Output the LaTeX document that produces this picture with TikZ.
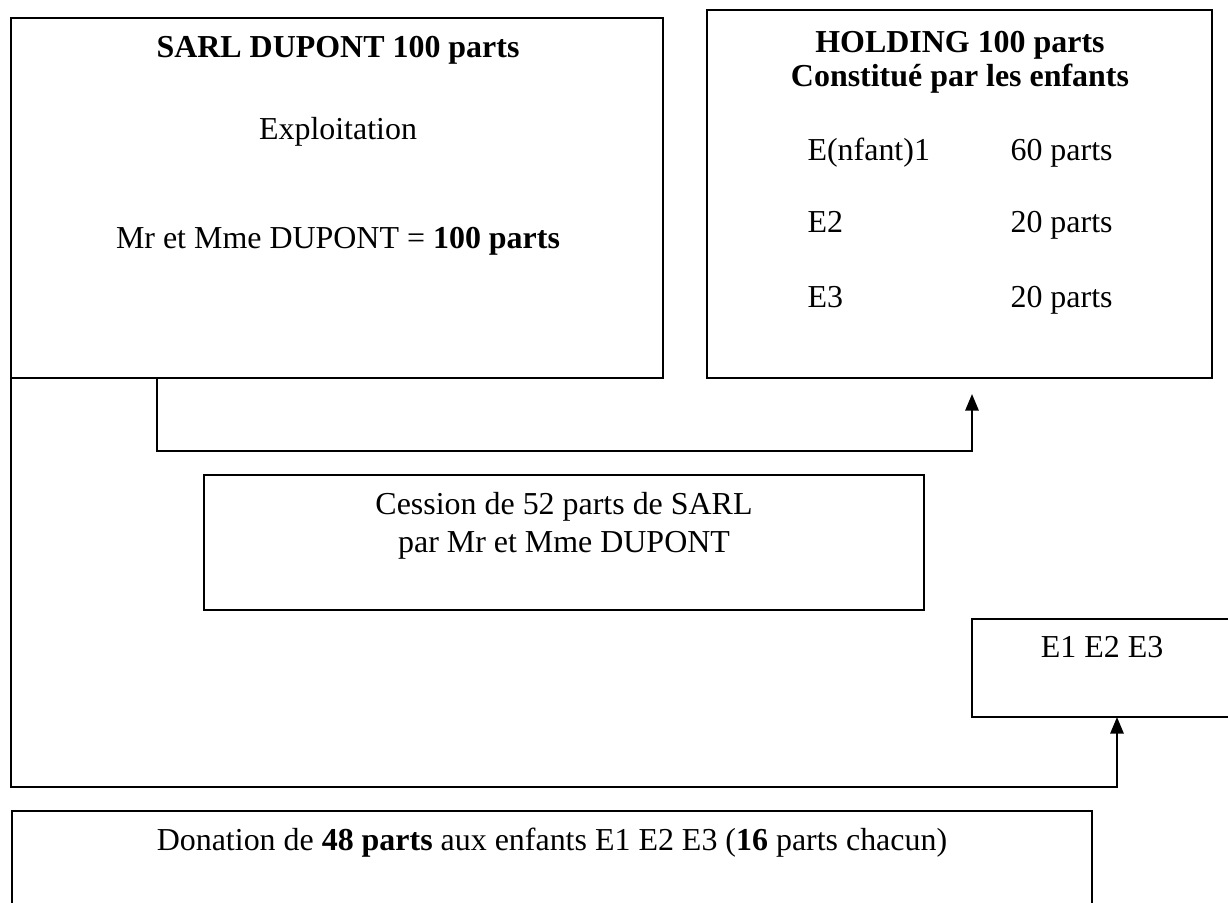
\documentclass[tikz,border=0pt]{standalone}
\usepackage{fontspec}
\setmainfont{Liberation Serif}
\usetikzlibrary{arrows.meta}
\begin{document}
\begin{tikzpicture}[x=0.36pt,y=-0.36pt,
  box/.style={draw,line width=0.75pt,inner sep=0pt,outer sep=0pt,rectangle},
  txt/.style={anchor=base,inner sep=0pt,font=\fontsize{11.5}{14}\selectfont},
  txtl/.style={anchor=base west,inner sep=0pt,font=\fontsize{11.5}{14}\selectfont},
  arr/.style={line width=0.75pt,-{Triangle[length=6pt,width=4.8pt]}},
  line/.style={line width=0.75pt}]
\useasboundingbox (0,0) rectangle (1228,902);
% boxes
\node[box,minimum width=234.72pt,minimum height=129.6pt] (sarl) at (337,198) {};
\node[box,minimum width=181.8pt,minimum height=132.48pt] (holding) at (959.5,194) {};
\node[box,minimum width=259.2pt,minimum height=48.6pt] (cession) at (564,542.5) {};
\node[box,minimum width=93.6pt,minimum height=35.28pt] (e123) at (1102,668) {};
\node[box,minimum width=388.8pt,minimum height=37.44pt] (donation) at (552,863) {};
% texts
\node[txt] (t1) at (338,57) {\textbf{SARL DUPONT 100 parts}};
\node[txt] (t2) at (338,139) {Exploitation};
\node[txt] (t3) at (338,248) {Mr et Mme DUPONT = \textbf{100 parts}};
\node[txt] (h1) at (960,52) {\textbf{HOLDING 100 parts}};
\node[txt] (h2) at (960,86) {\textbf{Constitué par les enfants}};
\node[txtl] (h3a) at (807,160) {E(nfant)1};
\node[txtl] (h3b) at (1010,160) {60 parts};
\node[txtl] (h4a) at (807,232) {E2};
\node[txtl] (h4b) at (1010,232) {20 parts};
\node[txtl] (h5a) at (807,307) {E3};
\node[txtl] (h5b) at (1010,307) {20 parts};
\node[txt] (c1) at (564,514) {Cession de 52 parts de SARL};
\node[txt] (c2) at (564,552) {par Mr et Mme DUPONT};
\node[txt] (e1) at (1102,657) {E1 E2 E3};
\node[txt] (d1) at (552,850) {Donation de \textbf{48 parts} aux enfants E1 E2 E3 (\textbf{16} parts chacun)};
% connectors
\coordinate (k1) at (157,451);
\coordinate (tip1) at (972,394);
\draw[arr] (sarl.south -| k1) -- (k1) -| (tip1);
\coordinate (k2) at (1117,787);
\draw[arr] (sarl.south west) |- (k2) -- (k2 |- e123.south);
\end{tikzpicture}
\end{document}
